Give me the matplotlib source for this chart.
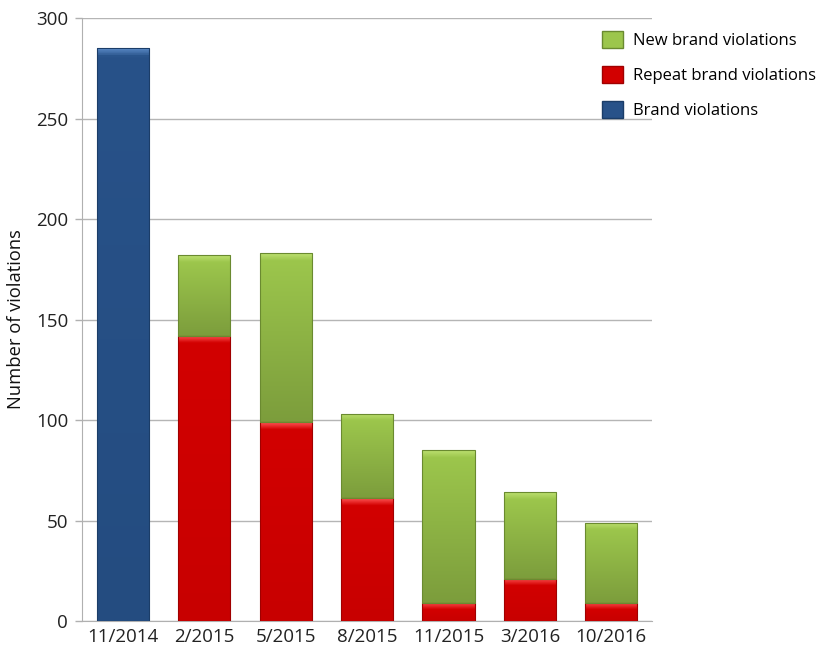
import numpy as np
import matplotlib.pyplot as plt
from matplotlib.colors import LinearSegmentedColormap
from matplotlib.patches import Patch

plt.rcParams['font.family'] = ['Open Sans', 'DejaVu Sans']

periods = ["11/2014", "2/2015", "5/2015", "8/2015", "11/2015", "3/2016", "10/2016"]
brand = [285, 0, 0, 0, 0, 0, 0]
repeat = [0, 142, 99, 61, 9, 21, 9]
new = [0, 40, 84, 42, 76, 43, 40]

# (highlight, upper body, lower body, edge) for each series
shades = {
    "brand": ("#5584c0", "#285289", "#244c80", "#1b3d68"),
    "repeat": ("#ff5555", "#d20000", "#c80000", "#a00000"),
    "new": ("#bde070", "#9cc64c", "#7c9d3c", "#6a8a30"),
}

fig = plt.figure(figsize=(8.22, 6.5), dpi=100)
ax = fig.add_axes([0.0998, 0.0446, 0.6934, 0.9277])

x = np.arange(len(periods))
w = 0.64
hl = 3.5  # bevel band thickness in data units


def shade_bars(bars, key):
    top, upper, lower, edge = shades[key]
    for b in bars:
        h = b.get_height()
        if h <= 0:
            continue
        x0, y0 = b.get_x(), b.get_y()
        f = max(0.0, 1 - hl / h)
        cmap = LinearSegmentedColormap.from_list(
            key, [(0, lower), (f, upper), (1, top)])
        grad = np.linspace(0, 1, 500).reshape(-1, 1) * np.ones((1, 40))
        img = ax.imshow(grad, cmap=cmap, origin="lower", aspect="auto",
                        extent=[x0, x0 + b.get_width(), y0, y0 + h], zorder=3,
                        interpolation="bilinear")
        img.set_clip_path(b)
        ax.bar(x0 + b.get_width() / 2, h, w, bottom=y0, color="none",
               edgecolor=edge, linewidth=0.8, zorder=4)


bb = ax.bar(x, brand, w, color="none", zorder=2)
br = ax.bar(x, repeat, w, color="none", zorder=2)
bn = ax.bar(x, new, w, bottom=repeat, color="none", zorder=2)
shade_bars(bb, "brand")
shade_bars(br, "repeat")
shade_bars(bn, "new")

ax.set_xlim(-0.5, len(periods) - 0.5)
ax.set_ylim(0, 300)
ax.set_yticks(range(0, 301, 50))
ax.set_xticks(x)
ax.set_xticklabels(periods)
ax.tick_params(axis="x", length=0, labelsize=13.5, pad=5, colors="#222222")
ax.tick_params(axis="y", length=5, width=1, color="#b0b0b0", labelsize=13.5, colors="#222222",
               pad=5)
ax.yaxis.grid(True, color="#b5b5b5", linewidth=1)
ax.set_axisbelow(True)
for s in ("top", "right"):
    ax.spines[s].set_visible(False)
for s in ("left", "bottom"):
    ax.spines[s].set_color("#b0b0b0")
ax.set_ylabel("Number of violations", fontsize=13.2, color="#111111", labelpad=8)

handles = [
    Patch(facecolor=shades["new"][1], edgecolor=shades["new"][3]),
    Patch(facecolor=shades["repeat"][1], edgecolor=shades["repeat"][3]),
    Patch(facecolor=shades["brand"][1], edgecolor=shades["brand"][3]),
]
fig.legend(handles, ["New brand violations", "Repeat brand violations", "Brand violations"],
           loc="upper left", bbox_to_anchor=(0.714, 0.976), frameon=False,
           fontsize=12, handlelength=1.25, handleheight=1.25, labelspacing=1.0,
           handletextpad=0.6)

fig.savefig("out.png", dpi=100)
